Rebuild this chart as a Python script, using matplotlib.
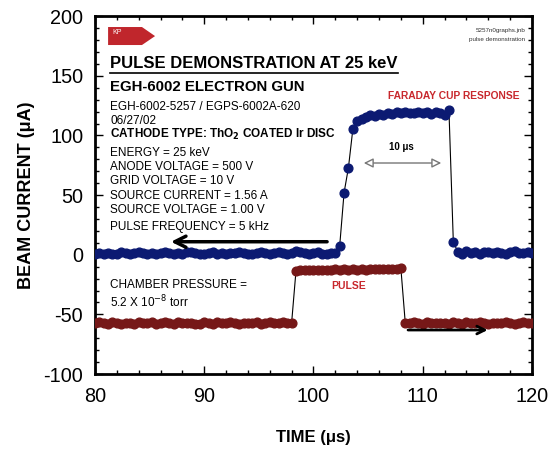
import matplotlib
matplotlib.use("Agg")
import matplotlib.pyplot as plt
from matplotlib.patches import Polygon, FancyArrowPatch
from matplotlib.ticker import MultipleLocator

plt.rcParams['font.family'] = ['Liberation Sans', 'DejaVu Sans']
plt.rcParams['axes.unicode_minus'] = False

# sample times (us)
time_us = [
    80.0, 80.4, 80.8, 81.2, 81.6, 82.0, 82.4, 82.8, 83.2, 83.6,
    84.0, 84.4, 84.8, 85.2, 85.6, 86.0, 86.4, 86.8, 87.2, 87.6,
    88.0, 88.4, 88.8, 89.2, 89.6, 90.0, 90.4, 90.8, 91.2, 91.6,
    92.0, 92.4, 92.8, 93.2, 93.6, 94.0, 94.4, 94.8, 95.2, 95.6,
    96.0, 96.4, 96.8, 97.2, 97.6, 98.0, 98.4, 98.8, 99.2, 99.6,
    100.0, 100.4, 100.8, 101.2, 101.6, 102.0, 102.4, 102.8, 103.2, 103.6,
    104.0, 104.4, 104.8, 105.2, 105.6, 106.0, 106.4, 106.8, 107.2, 107.6,
    108.0, 108.4, 108.8, 109.2, 109.6, 110.0, 110.4, 110.8, 111.2, 111.6,
    112.0, 112.4, 112.8, 113.2, 113.6, 114.0, 114.4, 114.8, 115.2, 115.6,
    116.0, 116.4, 116.8, 117.2, 117.6, 118.0, 118.4, 118.8, 119.2, 119.6,
    120.0,
]

# Faraday cup response (uA)
faraday = [
    0.5, 1.2, 0.8, 1.5, 0.3, 1.0, 2.1, 1.4, 0.6, 1.8,
    2.4, 1.1, 0.9, 1.6, 0.4, 1.3, 2.0, 1.7, 0.8, 1.2,
    0.5, 1.9, 2.6, 1.5, 0.7, 1.0, 1.4, 2.2, 0.9, 1.6,
    0.2, 1.1, 1.8, 2.5, 1.3, 0.6, 1.0, 1.7, 2.3, 1.2,
    0.8, 1.5, 2.0, 1.1, 0.4, 1.6, 2.8, 1.9, 1.2, 0.7,
    1.4, 2.1, 1.0, 0.9, 1.5, 1.1, 7.5, 52.0, 73.0, 105.0,
    112.0, 114.0, 115.5, 117.0, 116.0, 118.0, 117.5, 119.0, 118.0, 119.5,
    118.5, 120.0, 119.0, 118.5, 120.0, 119.0, 119.5, 118.0, 119.5, 118.5,
    117.5, 121.0, 11.0, 2.5, 1.0, 3.0, 1.5, 2.2, 0.8, 2.6,
    1.9, 1.2, 2.4, 1.6, 0.9, 2.0, 2.8, 1.4, 1.1, 2.3,
    1.7,
]

# grid pulse (uA, offset)
pulse = [
    -57.5, -56.8, -57.2, -58.0, -56.5, -57.0, -57.8, -56.9, -57.3, -58.2,
    -56.7, -57.1, -57.6, -56.4, -57.9, -57.2, -56.8, -57.5, -58.1, -56.6,
    -57.0, -57.4, -56.9, -57.7, -58.0, -56.5, -57.3, -57.8, -56.8, -57.1,
    -57.6, -56.7, -57.2, -58.0, -56.9, -57.4, -57.0, -56.6, -57.8, -57.3,
    -56.8, -57.5, -57.1, -56.7, -57.4, -57.0, -13.4, -13.0, -12.6, -13.2,
    -12.8, -12.4, -13.0, -12.5, -12.9, -12.2, -12.7, -12.3, -12.8, -12.1,
    -12.5, -12.0, -12.6, -11.9, -12.3, -11.8, -12.2, -11.7, -12.1, -11.6,
    -11.4, -57.0, -57.5, -56.8, -57.3, -57.9, -56.6, -57.1, -57.6, -56.9,
    -57.4, -58.0, -56.7, -57.2, -57.8, -56.5, -57.0, -57.5, -56.8, -57.3,
    -57.7, -56.9, -57.2, -57.6, -56.6, -57.1, -57.8, -57.0, -56.7, -57.4,
    -57.2,
]

info_lines = [
    ("EGH-6002-5257 / EGPS-6002A-620", "normal"),
    ("06/27/02", "normal"),
    ("CATHODE TYPE: ThO$_\\mathbf{2}$ COATED Ir DISC", "bold"),
    ("ENERGY = 25 keV", "normal"),
    ("ANODE VOLTAGE = 500 V", "normal"),
    ("GRID VOLTAGE = 10 V", "normal"),
    ("SOURCE CURRENT = 1.56 A", "normal"),
    ("SOURCE VOLTAGE = 1.00 V", "normal"),
    ("PULSE FREQUENCY = 5 kHz", "normal"),
]
info_y = [124.1, 112.1, 101.2, 85.5, 73.8, 62.0, 49.2, 37.5, 23.5]

fig = plt.figure(figsize=(5.49, 4.49), dpi=100)
ax = fig.add_axes([0.173, 0.167, 0.796, 0.797])

ax.plot(time_us, faraday, color='black', lw=0.8, marker='o', ms=6.3,
        mfc='#0c1a72', mec='#0c1a72', zorder=3)
ax.plot(time_us, pulse, color='black', lw=0.8, marker='o', ms=6.3,
        mfc='#761818', mec='#761818', zorder=3)

ax.set_xlim(80, 120)
ax.set_ylim(-100, 200)
ax.xaxis.set_major_locator(MultipleLocator(10))
ax.xaxis.set_minor_locator(MultipleLocator(2))
ax.yaxis.set_major_locator(MultipleLocator(50))
ax.yaxis.set_minor_locator(MultipleLocator(10))
ax.tick_params(which='both', direction='in', top=True, right=True, width=1)
ax.tick_params(which='major', length=6, labelsize=14.3)
ax.tick_params(axis='x', which='major', pad=9.5)
ax.tick_params(axis='y', which='major', pad=8.5)
ax.tick_params(which='minor', length=3)
for s in ax.spines.values():
    s.set_linewidth(2)

ax.set_xlabel("TIME (\u03bcs)", fontsize=12, fontweight='bold', labelpad=17)
ax.set_ylabel("BEAM CURRENT (\u03bcA)", fontsize=13, fontweight='bold', labelpad=6)

# KP logo
ax.add_patch(Polygon([[81.2, 190.9], [84.3, 190.9], [85.5, 183.3],
                      [84.3, 175.8], [81.2, 175.8]], closed=True,
                     facecolor='#c0262c', edgecolor='none'))
ax.text(81.6, 186.5, "KP", color='white', fontsize=5, va='center')
ax.text(119.4, 188.4, "5257n0graphs.jnb", fontsize=4.5, ha='right', va='center', color='#333333')
ax.text(119.4, 180.5, "pulse demonstration", fontsize=4.5, ha='right', va='center', color='#333333')

title = ax.text(81.4, 160.4, "PULSE DEMONSTRATION AT 25 keV", fontsize=12,
                fontweight='bold', va='center')
ax.text(81.4, 140.3, "EGH-6002 ELECTRON GUN", fontsize=10.8, fontweight='bold', va='center')
for (txt, w), yv in zip(info_lines, info_y):
    ax.text(81.4, yv, txt, fontsize=8.5, fontweight=w, va='center')
ax.text(81.4, -25.2, "CHAMBER PRESSURE =", fontsize=8.5, va='center')
ax.text(81.4, -39.4, "5.2 X 10$^{-8}$ torr", fontsize=8.5, va='center')

ax.text(112.8, 133.0, "FARADAY CUP RESPONSE", fontsize=7.4, fontweight='bold',
        color='#c8282d', ha='center', va='center')
ax.text(103.2, -26.2, "PULSE", fontsize=7.5, fontweight='bold',
        color='#c8282d', ha='center', va='center')
ax.text(108.0, 90.3, "10 \u03bcs", fontsize=7, fontweight='bold', ha='center', va='center')

ax.add_patch(FancyArrowPatch((104.35, 76.9), (111.95, 76.9), arrowstyle='<|-|>',
                             mutation_scale=14, fc='white', ec='#777777', lw=1))
ax.annotate("", xy=(86.7, 10.9), xytext=(101.5, 10.9),
            arrowprops=dict(arrowstyle='->', lw=2.5, color='black', mutation_scale=20))
ax.annotate("", xy=(116.2, -63.1), xytext=(108.4, -63.1),
            arrowprops=dict(arrowstyle='->', lw=2.0, color='black', mutation_scale=14))

# underline the title
fig.canvas.draw()
bb = title.get_window_extent().transformed(ax.transData.inverted())
ax.plot([bb.x0, bb.x1], [bb.y0 - 1.5, bb.y0 - 1.5], color='black', lw=1.2)

fig.savefig("out.png", dpi=100)
